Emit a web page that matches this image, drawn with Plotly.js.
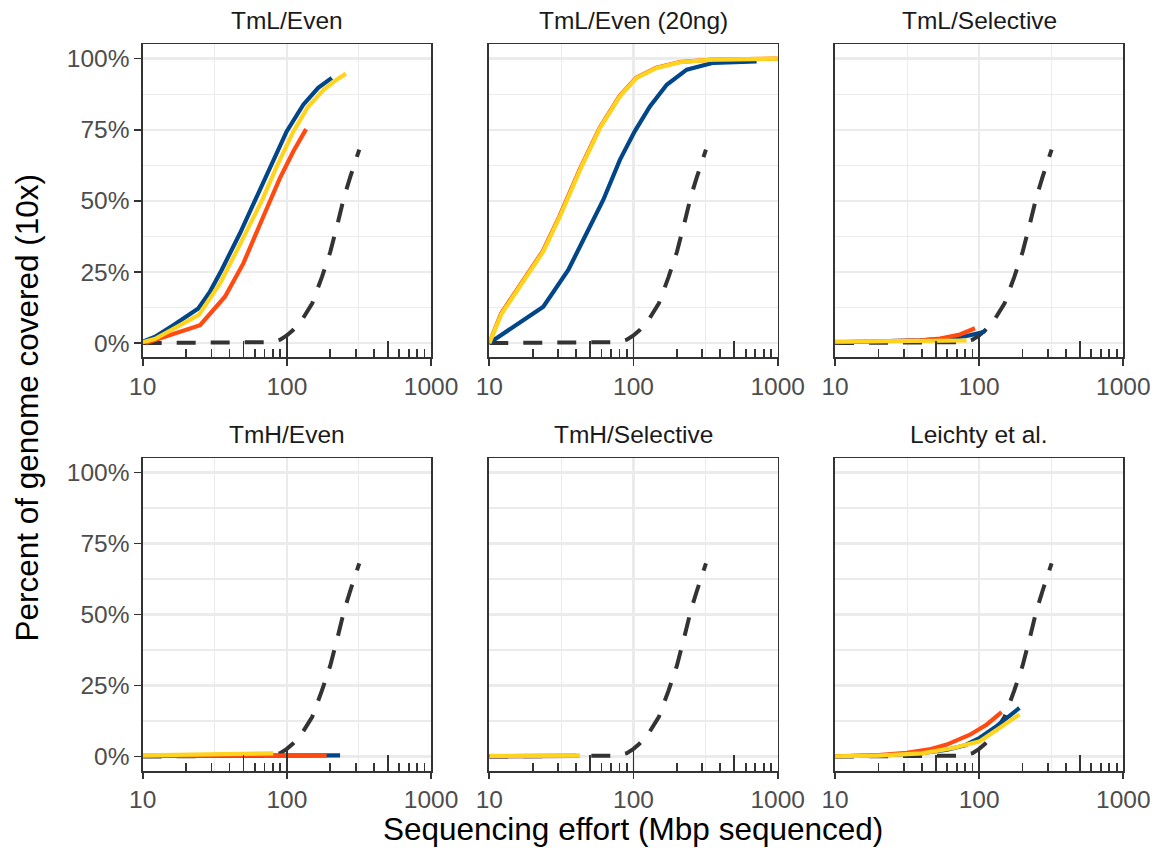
<!DOCTYPE html>
<html>
<head>
<meta charset="utf-8">
<script src="https://cdn.plot.ly/plotly-3.0.1.min.js"></script>
<style>html,body{margin:0;padding:0;background:#fff}#chart{width:1163px;height:854px}</style>
</head>
<body>
<div id="chart"></div>
<script>
// ---------- DATA ----------
const panelTitles = ["TmL/Even", "TmL/Even (20ng)", "TmL/Selective", "TmH/Even", "TmH/Selective", "Leichty et al."];
const xTickVals = [10, 100, 1000];
const xTickText = ["10", "100", "1000"];
const yTickVals = [0, 0.25, 0.5, 0.75, 1];
const yTickText = ["0%", "25%", "50%", "75%", "100%"];
const xAxisTitle = "Sequencing effort (Mbp sequenced)";
const yAxisTitle = "Percent of genome covered (10x)";

// dashed reference curve (same in every panel)
const refX = [10, 20, 30, 40, 50, 60, 70, 80, 90, 100, 110, 125, 150, 175, 200, 225, 250, 275, 300, 318];
const refY = [0, 0, 0, 0, 0, 0.001, 0.003, 0.006, 0.012, 0.027, 0.045, 0.075, 0.14, 0.232, 0.32, 0.42, 0.515, 0.583, 0.64, 0.68];

// TmL/Even
const tmlEvenBlueX = [10, 12.2, 16.3, 24.3, 29.3, 35.3, 47.3, 61.8, 78.5, 99.7, 130, 165, 205];
const tmlEvenBlueY = [0.005, 0.022, 0.063, 0.122, 0.181, 0.257, 0.386, 0.515, 0.633, 0.744, 0.838, 0.897, 0.932];
const tmlEvenRedX = [10.5, 25, 37.2, 49.9, 68.7, 89.5, 111, 136];
const tmlEvenRedY = [0, 0.063, 0.163, 0.28, 0.445, 0.58, 0.674, 0.752];
const tmlEvenYellowX = [10, 12.2, 24.5, 34.4, 45, 57, 67, 85, 111, 140, 180, 220, 257];
const tmlEvenYellowY = [0.003, 0.015, 0.099, 0.21, 0.325, 0.43, 0.5, 0.62, 0.744, 0.83, 0.89, 0.925, 0.947];

// TmL/Even (20ng)
const tml20BlueX = [10, 23.7, 35.3, 47.3, 61.8, 80.5, 102, 130, 170, 234, 357, 714];
const tml20BlueY = [0, 0.128, 0.257, 0.386, 0.504, 0.644, 0.744, 0.832, 0.908, 0.961, 0.985, 0.99];
const tml20RedX = [10, 12.1, 23.5, 30.7, 42.3, 58.3, 80, 104.5, 144, 209, 352, 1000];
const tml20RedY = [0, 0.105, 0.323, 0.446, 0.61, 0.757, 0.868, 0.933, 0.968, 0.988, 0.996, 1.0];
const tml20YellowX = [10, 12.2, 23.7, 30.9, 42.6, 58.6, 80.5, 105, 145, 210, 355, 1000];
const tml20YellowY = [0, 0.104, 0.322, 0.445, 0.609, 0.756, 0.867, 0.932, 0.967, 0.987, 0.996, 1.0];

// TmL/Selective
const tmlSelBlueX = [10, 20, 39, 60, 81.8, 100, 110];
const tmlSelBlueY = [0.003, 0.005, 0.01, 0.016, 0.025, 0.035, 0.042];
const tmlSelRedX = [10, 20, 30, 40, 53.5, 73.6, 93.5];
const tmlSelRedY = [0.003, 0.005, 0.007, 0.01, 0.016, 0.03, 0.052];
const tmlSelYellowX = [10, 20, 40, 60, 81.8];
const tmlSelYellowY = [0.005, 0.006, 0.007, 0.008, 0.009];

// TmH/Even
const tmhEvenBlueX = [10, 50, 100, 234];
const tmhEvenBlueY = [0.002, 0.003, 0.003, 0.004];
const tmhEvenRedX = [10, 50, 100, 189];
const tmhEvenRedY = [0.002, 0.003, 0.003, 0.004];
const tmhEvenYellowX = [10, 20, 40, 80.5];
const tmhEvenYellowY = [0.004, 0.006, 0.008, 0.011];

// TmH/Selective
const tmhSelBlueX = [10, 20, 40];
const tmhSelBlueY = [0.001, 0.002, 0.002];
const tmhSelRedX = [10, 20, 42];
const tmhSelRedY = [0.001, 0.002, 0.002];
const tmhSelYellowX = [10, 20, 42.6];
const tmhSelYellowY = [0.002, 0.002, 0.003];

// Leichty et al.
const leichtyBlueX = [10, 20, 40, 60, 80, 101, 132, 160, 190];
const leichtyBlueY = [0.001, 0.003, 0.012, 0.024, 0.04, 0.066, 0.107, 0.14, 0.171];
const leichtyRedX = [10, 20, 31.4, 45, 59.6, 86.3, 113, 143];
const leichtyRedY = [0.001, 0.005, 0.013, 0.025, 0.042, 0.077, 0.113, 0.156];
const leichtyYellowX = [10, 20, 40, 66, 101, 138, 165, 190];
const leichtyYellowY = [0.001, 0.003, 0.011, 0.03, 0.054, 0.101, 0.125, 0.148];

const panelData = [
  {blue: [tmlEvenBlueX, tmlEvenBlueY], red: [tmlEvenRedX, tmlEvenRedY], yellow: [tmlEvenYellowX, tmlEvenYellowY]},
  {blue: [tml20BlueX, tml20BlueY], red: [tml20RedX, tml20RedY], yellow: [tml20YellowX, tml20YellowY]},
  {blue: [tmlSelBlueX, tmlSelBlueY], red: [tmlSelRedX, tmlSelRedY], yellow: [tmlSelYellowX, tmlSelYellowY]},
  {blue: [tmhEvenBlueX, tmhEvenBlueY], red: [tmhEvenRedX, tmhEvenRedY], yellow: [tmhEvenYellowX, tmhEvenYellowY]},
  {blue: [tmhSelBlueX, tmhSelBlueY], red: [tmhSelRedX, tmhSelRedY], yellow: [tmhSelYellowX, tmhSelYellowY]},
  {blue: [leichtyBlueX, leichtyBlueY], red: [leichtyRedX, leichtyRedY], yellow: [leichtyYellowX, leichtyYellowY]}
];

// ---------- STYLE ----------
const FONT = '"Liberation Sans", Arial, Helvetica, sans-serif';
const COLORS = {blue: '#02468A', red: '#FF4B12', yellow: '#FFD41F'};
const DARK = '#333333';
const GRID = '#EBEBEB';
const xDomains = [[0.1227, 0.3706], [0.4207, 0.6687], [0.7180, 0.9659]];
const yDomains = [[0.5816, 0.9481], [0.0975, 0.4633]];

// log-tick decoration positions (annotation_logticks style)
const shortTicks = [], midTicks = [], longTicks = [];
[10, 100].forEach(d => {
  longTicks.push(d);
  for (let k = 2; k <= 9; k++) { (k === 5 ? midTicks : shortTicks).push(k * d); }
});
longTicks.push(1000);
const xMinorGrid = [Math.pow(10, 1.5), Math.pow(10, 2.5)];

const traces = [];
const layout = {
  width: 1163, height: 854,
  margin: {l: 0, r: 0, t: 0, b: 0},
  paper_bgcolor: '#ffffff', plot_bgcolor: '#ffffff',
  showlegend: false,
  font: {family: FONT, color: '#1A1A1A'},
  annotations: []
};

for (let i = 0; i < 6; i++) {
  const n = i + 1, col = i % 3, row = Math.floor(i / 3);
  const xid = n === 1 ? 'x' : 'x' + n;
  const yid = n === 1 ? 'y' : 'y' + n;
  const xk = n === 1 ? 'xaxis' : 'xaxis' + n;
  const yk = n === 1 ? 'yaxis' : 'yaxis' + n;

  layout[xk] = {
    domain: xDomains[col], anchor: yid, type: 'log', range: [1, 3], autorange: false,
    tickmode: 'array', tickvals: xTickVals, ticktext: xTickText,
    ticks: 'outside', ticklen: 6.5, tickwidth: 1.8, tickcolor: DARK,
    tickfont: {family: FONT, size: 24.5, color: '#4D4D4D'},
    showline: true, mirror: true, linecolor: DARK, linewidth: 1.8,
    showgrid: true, gridcolor: GRID, gridwidth: 2.2, zeroline: false,
    minor: {tickmode: 'array', tickvals: xMinorGrid, showgrid: true, gridcolor: GRID, gridwidth: 1.1, ticks: ''}
  };
  layout[yk] = {
    domain: yDomains[row], anchor: xid, range: [-0.05, 1.05], autorange: false,
    tickmode: 'array', tickvals: yTickVals, ticktext: yTickText,
    ticks: col === 0 ? 'outside' : '', ticklen: 6.5, tickwidth: 1.8, tickcolor: DARK,
    showticklabels: col === 0,
    tickfont: {family: FONT, size: 24.5, color: '#4D4D4D'},
    showline: true, mirror: true, linecolor: DARK, linewidth: 1.8,
    showgrid: true, gridcolor: GRID, gridwidth: 2.2, zeroline: false,
    minor: {tickmode: 'array', tickvals: [0.125, 0.375, 0.625, 0.875], showgrid: true, gridcolor: GRID, gridwidth: 1.1, ticks: ''}
  };

  // overlay axes drawing the log ticks inside the panel bottom
  const sid = 6 + n, lid = 12 + n;
  const common = {
    overlaying: xid, anchor: yid, side: 'bottom', type: 'log', range: [1, 3], autorange: false,
    showticklabels: false, showgrid: false, showline: false, zeroline: false,
    tickmode: 'array', ticks: 'inside', tickwidth: 1.8, tickcolor: DARK
  };
  layout['xaxis' + sid] = Object.assign({}, common, {
    tickvals: shortTicks, ticklen: 8,
    minor: {tickmode: 'array', tickvals: midTicks, ticks: 'inside', ticklen: 16, tickwidth: 1.8, tickcolor: DARK, showgrid: false}
  });
  layout['xaxis' + lid] = Object.assign({}, common, {tickvals: longTicks, ticklen: 24});
  traces.push({x: [], y: [], xaxis: 'x' + sid, yaxis: yid, type: 'scatter', mode: 'lines', hoverinfo: 'skip'});
  traces.push({x: [], y: [], xaxis: 'x' + lid, yaxis: yid, type: 'scatter', mode: 'lines', hoverinfo: 'skip'});

  // reference dashed line (beneath)
  traces.push({
    x: refX, y: refY, xaxis: xid, yaxis: yid, type: 'scatter', mode: 'lines',
    line: {color: DARK, width: 4, dash: '19px,15px'}, name: 'reference'
  });
  ['blue', 'red', 'yellow'].forEach(k => {
    const d = panelData[i][k];
    traces.push({
      x: d[0], y: d[1], xaxis: xid, yaxis: yid, type: 'scatter', mode: 'lines',
      line: {color: COLORS[k], width: 4.2}, name: k
    });
  });

  layout.annotations.push({
    text: panelTitles[i], xref: 'paper', yref: 'paper',
    x: (xDomains[col][0] + xDomains[col][1]) / 2, y: yDomains[row][1],
    xanchor: 'center', yanchor: 'bottom', yshift: 8, showarrow: false,
    font: {family: FONT, size: 24.5, color: '#1A1A1A'}
  });
}

layout.annotations.push({
  text: xAxisTitle, xref: 'paper', yref: 'paper', x: 0.5443, y: 0.0295,
  xanchor: 'center', yanchor: 'middle', showarrow: false,
  font: {family: FONT, size: 31.5, color: '#000000'}
});
layout.annotations.push({
  text: yAxisTitle, xref: 'paper', yref: 'paper', x: 0.0232, y: 0.5228,
  xanchor: 'center', yanchor: 'middle', textangle: -90, showarrow: false,
  font: {family: FONT, size: 31.5, color: '#000000'}
});

Plotly.newPlot('chart', traces, layout, {displayModeBar: false, staticPlot: true});
</script>
</body>
</html>
